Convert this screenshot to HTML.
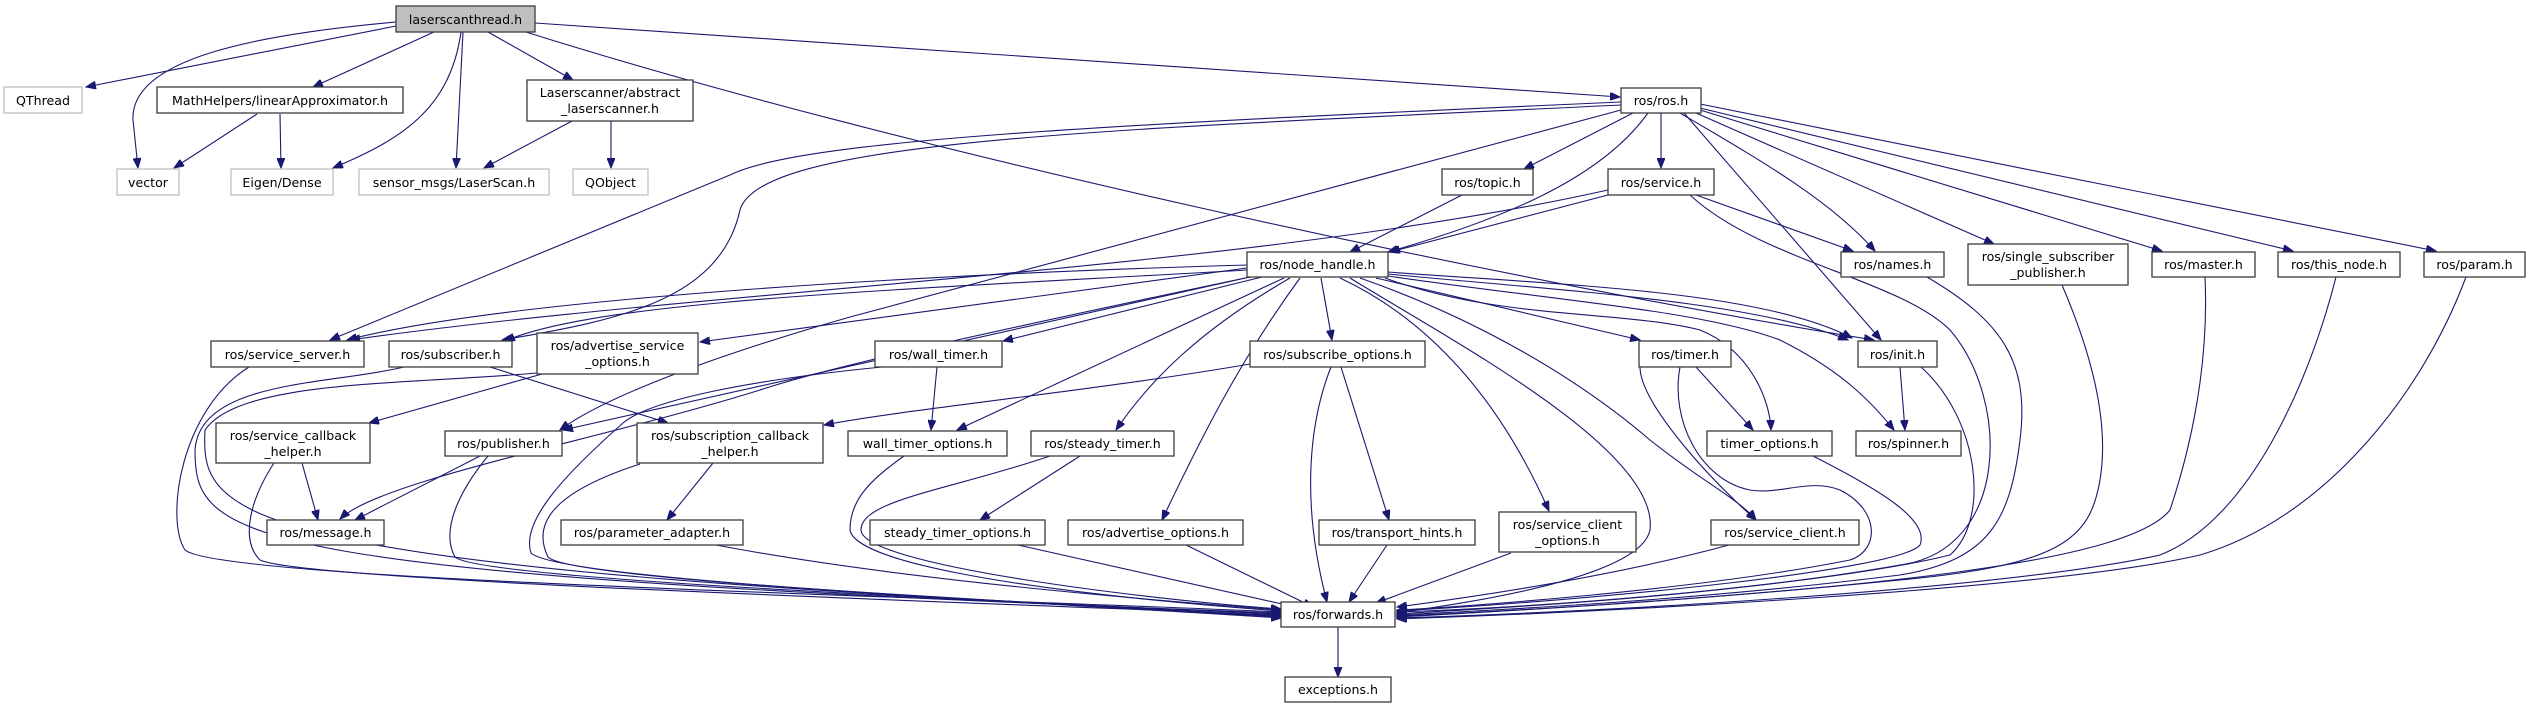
<!DOCTYPE html>
<html><head><meta charset="utf-8"><style>
html,body{margin:0;padding:0;background:#fff}
svg{display:block}
text{font-family:"DejaVu Sans","Liberation Sans",sans-serif;font-size:12.6px;fill:#000;text-anchor:middle}
.n{fill:#fff;stroke:#3c3c3c;stroke-width:1.3}
.g{fill:#fff;stroke:#bfbfbf;stroke-width:1.3}
.e{fill:none;stroke:#191970;stroke-width:1.1}
</style></head><body>
<svg width="2527" height="708" viewBox="0 0 2527 708" xmlns="http://www.w3.org/2000/svg">
<defs><marker id="a" markerUnits="userSpaceOnUse" markerWidth="11" markerHeight="8" refX="10" refY="4" orient="auto"><path d="M0,0 L10,4 L0,8 z" fill="#191970" stroke="#191970"/></marker></defs>
<g class="e" marker-end="url(#a)">
<!-- laserscanthread -->
<path d="M396,26 L86,87"/>
<path d="M396,22 C250,35 130,60 133,120 L138,168"/>
<path d="M434,32 L313,87"/>
<path d="M461,32 C450,110 400,140 333,168"/>
<path d="M463,32 L456,168"/>
<path d="M488,32 L573,80"/>
<path d="M526,32 C900,150 1500,280 1874,340"/>
<path d="M535,23 L1620,97"/>
<!-- MathHelpers / abstract -->
<path d="M257,114 L174,168"/>
<path d="M280,114 L281,168"/>
<path d="M572,121 L484,168"/>
<path d="M611,121 L611,168"/>
<!-- ros.h -->
<path d="M1633,113 L1524,169"/>
<path d="M1661,113 L1661,168"/>
<path d="M1648,113 C1600,180 1500,220 1388,252"/>
<path d="M1680,113 C1760,160 1830,200 1875,251"/>
<path d="M1684,113 L1881,340"/>
<path d="M1696,113 L1994,244"/>
<path d="M1700,110 L2162,251"/>
<path d="M1700,108 L2293,251"/>
<path d="M1700,104 L2436,251"/>
<path d="M1621,102 C1100,125 800,140 730,175 L330,340"/>
<path d="M1621,105 C1100,130 760,140 740,210 C720,300 620,320 502,340"/>
<path d="M1621,110 L850,317 C700,360 600,400 560,430"/>
<!-- service.h -->
<path d="M1608,195 L1390,252"/>
<path d="M1696,195 L1853,251"/>
<path d="M1690,195 C1760,260 1900,280 1950,330 C2010,400 2010,550 1900,565 C1700,600 1450,610 1397,614"/>
<path d="M1608,190 C1250,270 700,290 350,340"/>
<!-- topic -->
<path d="M1462,195 L1350,252"/>
<!-- node_handle -->
<path d="M1247,265 C900,275 500,300 347,340"/>
<path d="M1247,270 C900,290 600,300 505,341"/>
<path d="M1247,268 L700,342"/>
<path d="M1250,277 L563,430"/>
<path d="M1262,277 L1003,341"/>
<path d="M1284,278 L957,430"/>
<path d="M1290,278 C1200,330 1150,380 1116,430"/>
<path d="M1300,278 C1240,360 1200,440 1162,520"/>
<path d="M1321,278 L1332,340"/>
<path d="M1340,278 C1430,320 1500,400 1549,511"/>
<path d="M1350,278 C1450,340 1660,450 1650,530 C1640,580 1450,605 1397,613"/>
<path d="M1360,278 C1480,320 1580,380 1650,440 C1700,480 1740,500 1756,520"/>
<path d="M1376,278 L1640,340"/>
<path d="M1385,278 C1500,320 1620,310 1700,330 C1750,350 1770,400 1771,430"/>
<path d="M1388,276 C1550,300 1700,310 1780,340 C1840,370 1870,400 1894,430"/>
<path d="M1388,274 C1550,290 1750,300 1848,340"/>
<path d="M1388,272 C1560,285 1760,290 1852,338"/>
<path d="M1250,277 C950,340 820,370 760,390 C600,440 380,480 340,519"/>
<!-- mid -->
<path d="M490,367 L668,423"/>
<path d="M1250,364 C1100,390 900,410 824,425"/>
<path d="M542,374 L369,423"/>
<path d="M302,463 L318,520"/>
<path d="M480,456 L355,520"/>
<path d="M713,463 L667,520"/>
<path d="M937,367 L931,430"/>
<path d="M1080,456 L980,520"/>
<path d="M1341,367 L1389,520"/>
<path d="M1696,367 L1753,430"/>
<path d="M1900,367 L1905,430"/>
<path d="M1640,367 C1640,400 1700,470 1756,520"/>
<!-- to forwards (left) -->
<path d="M249,367 C180,410 165,520 185,550 C220,580 900,595 1281,612"/>
<path d="M404,367 C330,385 200,380 195,450 C195,540 230,575 1281,613"/>
<path d="M537,373 C400,385 240,380 205,430 C200,520 230,570 1281,614"/>
<path d="M274,463 C250,500 240,540 260,560 C300,580 900,600 1281,615"/>
<path d="M488,456 C460,490 440,530 455,557 C480,580 1000,600 1281,616"/>
<path d="M640,464 C560,490 530,520 548,557 C570,580 1000,600 1281,617"/>
<path d="M882,367 C750,380 650,400 623,423 C570,470 520,520 531,553 C560,580 1000,600 1281,618"/>
<path d="M716,545 C900,580 1150,600 1281,610"/>
<path d="M904,456 C870,480 850,500 850,530 C855,560 1000,590 1281,611"/>
<path d="M1050,456 C950,490 861,500 861,530 C861,565 1150,600 1281,609"/>
<path d="M1018,545 L1300,608"/>
<path d="M1186,545 L1313,607"/>
<path d="M1331,367 C1310,420 1300,500 1327,602"/>
<path d="M1387,545 L1349,602"/>
<path d="M1511,553 L1376,603"/>
<path d="M1729,545 C1600,580 1450,600 1397,607"/>
<!-- to forwards (right) -->
<path d="M1680,367 C1670,420 1700,480 1750,490 C1780,495 1810,478 1840,490 C1880,510 1880,550 1850,560 C1700,590 1450,608 1397,610"/>
<path d="M1813,456 C1880,490 1930,520 1920,545 C1900,570 1600,600 1397,611"/>
<path d="M1921,367 C1980,420 1990,520 1950,555 C1850,580 1600,605 1397,612"/>
<path d="M1927,277 C2000,320 2030,360 2020,440 C2010,520 1990,560 1900,575 C1700,600 1500,610 1397,615"/>
<path d="M2062,285 C2090,350 2110,420 2100,480 C2090,540 2060,565 1900,580 C1700,600 1500,612 1397,616"/>
<path d="M2205,277 C2208,340 2200,420 2170,510 C2130,560 1900,590 1397,617"/>
<path d="M2336,277 C2310,380 2250,520 2160,555 C2000,590 1600,612 1397,618"/>
<path d="M2466,277 C2420,400 2320,520 2200,555 C2050,590 1600,612 1397,619"/>
<path d="M1338,627 L1338,677"/>
</g>
<g>
<rect x="396" y="6" width="139" height="26" fill="#bfbfbf" stroke="#3c3c3c" stroke-width="1.3"/><text x="465.5" y="24">laserscanthread.h</text>
<rect class="g" x="4" y="87" width="78" height="26"/><text x="43" y="105">QThread</text>
<rect class="n" x="157" y="87" width="246" height="26"/><text x="280" y="105">MathHelpers/linearApproximator.h</text>
<rect class="n" x="527" y="80" width="166" height="41"/><text x="610" y="97">Laserscanner/abstract</text><text x="610" y="113">_laserscanner.h</text>
<rect class="g" x="117" y="169" width="62" height="26"/><text x="148" y="187">vector</text>
<rect class="g" x="231" y="169" width="102" height="26"/><text x="282" y="187">Eigen/Dense</text>
<rect class="g" x="359" y="169" width="190" height="26"/><text x="454" y="187">sensor_msgs/LaserScan.h</text>
<rect class="g" x="573" y="169" width="75" height="26"/><text x="610.5" y="187">QObject</text>
<rect class="n" x="1621" y="88" width="80" height="25"/><text x="1661" y="105">ros/ros.h</text>
<rect class="n" x="1442" y="169" width="91" height="26"/><text x="1487.5" y="187">ros/topic.h</text>
<rect class="n" x="1608" y="169" width="106" height="26"/><text x="1661" y="187">ros/service.h</text>
<rect class="n" x="1247" y="252" width="141" height="25"/><text x="1317.5" y="269">ros/node_handle.h</text>
<rect class="n" x="1841" y="252" width="103" height="25"/><text x="1892.5" y="269">ros/names.h</text>
<rect class="n" x="1968" y="244" width="160" height="41"/><text x="2048" y="261">ros/single_subscriber</text><text x="2048" y="277">_publisher.h</text>
<rect class="n" x="2152" y="252" width="103" height="25"/><text x="2203.5" y="269">ros/master.h</text>
<rect class="n" x="2278" y="252" width="122" height="25"/><text x="2339" y="269">ros/this_node.h</text>
<rect class="n" x="2424" y="252" width="101" height="25"/><text x="2474.5" y="269">ros/param.h</text>
<rect class="n" x="211" y="341" width="153" height="26"/><text x="287.5" y="359">ros/service_server.h</text>
<rect class="n" x="389" y="341" width="123" height="26"/><text x="450.5" y="359">ros/subscriber.h</text>
<rect class="n" x="537" y="333" width="161" height="41"/><text x="617.5" y="350">ros/advertise_service</text><text x="617.5" y="366">_options.h</text>
<rect class="n" x="875" y="341" width="127" height="26"/><text x="938.5" y="359">ros/wall_timer.h</text>
<rect class="n" x="1250" y="341" width="175" height="26"/><text x="1337.5" y="359">ros/subscribe_options.h</text>
<rect class="n" x="1639" y="341" width="92" height="26"/><text x="1685" y="359">ros/timer.h</text>
<rect class="n" x="1858" y="341" width="79" height="26"/><text x="1897.5" y="359">ros/init.h</text>
<rect class="n" x="216" y="423" width="154" height="40"/><text x="293" y="440">ros/service_callback</text><text x="293" y="456">_helper.h</text>
<rect class="n" x="445" y="431" width="117" height="25"/><text x="503.5" y="448">ros/publisher.h</text>
<rect class="n" x="637" y="423" width="186" height="40"/><text x="730" y="440">ros/subscription_callback</text><text x="730" y="456">_helper.h</text>
<rect class="n" x="848" y="431" width="159" height="25"/><text x="927.5" y="448">wall_timer_options.h</text>
<rect class="n" x="1031" y="431" width="143" height="25"/><text x="1102.5" y="448">ros/steady_timer.h</text>
<rect class="n" x="1707" y="431" width="125" height="25"/><text x="1769.5" y="448">timer_options.h</text>
<rect class="n" x="1856" y="431" width="105" height="25"/><text x="1908.5" y="448">ros/spinner.h</text>
<rect class="n" x="267" y="520" width="117" height="25"/><text x="325.5" y="537">ros/message.h</text>
<rect class="n" x="561" y="520" width="182" height="25"/><text x="652" y="537">ros/parameter_adapter.h</text>
<rect class="n" x="870" y="520" width="175" height="25"/><text x="957.5" y="537">steady_timer_options.h</text>
<rect class="n" x="1068" y="520" width="175" height="25"/><text x="1155.5" y="537">ros/advertise_options.h</text>
<rect class="n" x="1319" y="520" width="156" height="25"/><text x="1397" y="537">ros/transport_hints.h</text>
<rect class="n" x="1499" y="512" width="137" height="40"/><text x="1567.5" y="529">ros/service_client</text><text x="1567.5" y="545">_options.h</text>
<rect class="n" x="1711" y="520" width="148" height="25"/><text x="1785" y="537">ros/service_client.h</text>
<rect class="n" x="1281" y="602" width="114" height="25"/><text x="1338" y="619">ros/forwards.h</text>
<rect class="n" x="1285" y="677" width="106" height="25"/><text x="1338" y="694">exceptions.h</text>
</g>
</svg>
</body></html>
